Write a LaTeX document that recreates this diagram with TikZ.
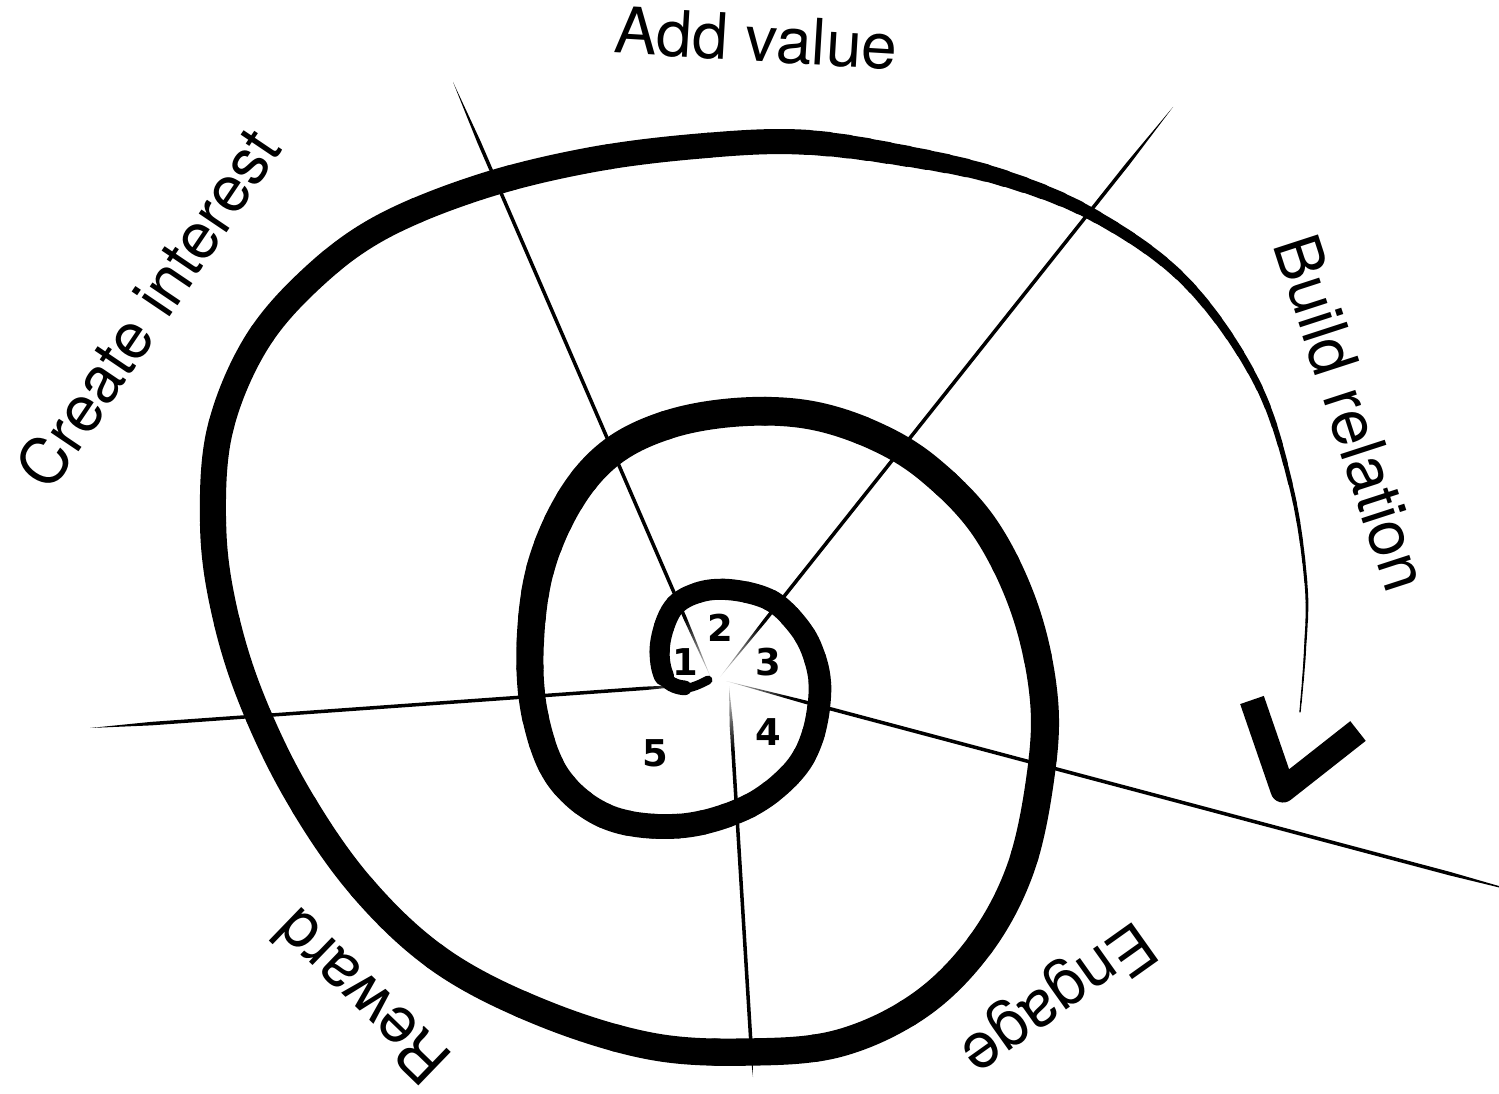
\documentclass[tikz,border=0pt]{standalone}
\usepackage{fontspec}
\setmainfont{TeX Gyre Heros}
\newfontfamily\numfont{DejaVu Sans}
\usetikzlibrary{calc,fadings}
\tikzfading[name=ctrfade, inner color=transparent!0, outer color=transparent!100]
\newcommand\taperline[2]{%
  \fill[black] (#1) -- ($(#1)!0.1!(#2)!0.5pt!90:(#2)$) -- ($(#1)!0.9!(#2)!0.5pt!90:(#2)$) -- (#2)
   -- ($(#1)!0.9!(#2)!0.5pt!-90:(#2)$) -- ($(#1)!0.1!(#2)!0.5pt!-90:(#2)$) -- cycle;}
% one piece of the brush stroke: from #1 px to #2 px along the spiral, width #3 px
\newcommand\brushseg[3]{%
  \pgfmathsetmacro\segon{(#2-#1)*0.284528}%
  \pgfmathsetmacro\segphase{\segon+2000-(#1)*0.284528}%
  \draw[line width=#3*0.01cm, line cap=round, dash pattern=on \segon pt off 2000pt, dash phase=\segphase pt, use path=\spiralpath];}
\newcommand\brushwidth[1]{% width in px at distance #1 px from the start
  \pgfmathsetmacro\ee{4700-(#1)}%
  \pgfmathsetmacro\ww{min(6+(#1)/60*14, 20+((#1)-60)/940*9, 29-max(0,(#1)-1000)/2800*4,
     max(1+\ee/250*3, 4+(\ee-250)/350*8, 12+(\ee-600)/300*13))}}
\tikzset{
  lbl/.style={font=\fontsize{18.2}{20}\selectfont, inner sep=0pt, anchor=base},
  num/.style={font=\numfont\bfseries\fontsize{10.5}{12}\selectfont, inner sep=0pt},
  check/.style={line width=0.25cm, line join=round, line cap=butt}
}
\begin{document}
\begin{tikzpicture}[x=0.01cm,y=-0.01cm]
\useasboundingbox (0,0) rectangle (1499,1094);
% radial lines
\coordinate (o1) at (453,82);   \coordinate (i1) at (711,678);
\coordinate (o2) at (1173,107); \coordinate (i2) at (720,677);
\coordinate (o3) at (1530,895); \coordinate (i3) at (726,681);
\coordinate (o4) at (753,1077); \coordinate (i4) at (729,686);
\coordinate (o5) at (90,728);   \coordinate (i5) at (706,684);
\taperline{o1}{i1}
\taperline{o2}{i2}
\taperline{o3}{i3}
\taperline{o4}{i4}
\taperline{o5}{i5}
% fade at centre
\coordinate (ctr) at (717,681);
\fill[white, path fading=ctrfade] (ctr) circle[radius=70];
% spiral
\path[save path=\spiralpath] plot[smooth, tension=0.6] coordinates {
(708,680) (686,688) (665,678) (660,645) (673,608) (700,592) (733,590) (770,600) (795,622) (812,650)
(820,688) (812,738) (790,775) (745,808) (680,826) (610,818) (560,780) (536,720) (530,650) (540,570)
(570,500) (612,452) (670,424) (740,412) (810,415) (875,436) (930,470) (985,528) (1025,610) (1044,700) (1040,780)
(1020,870) (980,945) (920,1005) (840,1043) (750,1052) (650,1046) (540,1012) (440,960) (360,885) (295,790)
(248,690) (222,600) (213,520) (220,430) (255,345) (310,280) (380,228) (480,187) (590,160) (700,146)
(800,142) (900,155) (1000,177) (1095,216) (1186,282) (1256,381) (1291,486) (1306,584) (1305,650) (1300,712)};
\foreach \i in {0,...,39} {
  \pgfmathsetmacro\aa{\i*25}\pgfmathsetmacro\bb{\aa+25}
  \brushwidth{\aa+12.5}
  \brushseg{\aa}{\bb}{\ww}
}
\foreach \i in {0,...,27} {
  \pgfmathsetmacro\aa{1000+\i*100}\pgfmathsetmacro\bb{\aa+100}
  \brushwidth{\aa+50}
  \brushseg{\aa}{\bb}{\ww}
}
\foreach \i in {0,...,45} {
  \pgfmathsetmacro\aa{3800+\i*20}\pgfmathsetmacro\bb{\aa+20}
  \brushwidth{\aa+10}
  \brushseg{\aa}{\bb}{\ww}
}
% check mark
\coordinate (ck1) at (1252,700);
\coordinate (ck2) at (1283,790);
\coordinate (ck3) at (1358,731);
\draw[check] (ck1) -- (ck2) -- (ck3);
% numbers
\node[num] (n1) at (685,662) {1};
\node[num] (n2) at (720,628) {2};
\node[num] (n3) at (768,662) {3};
\node[num] (n4) at (768,732) {4};
\node[num] (n5) at (655,753) {5};
% labels
\node[lbl, rotate=-3.4] (add) at (755,61) {Add value};
\node[lbl, rotate=56] (create) at (167,321) {Create interest};
\node[lbl, rotate=-72] (build) at (1330,420) {Build relation};
\node[lbl, rotate=136] (reward) at (377,981) {Reward};
\node[lbl, rotate=215.4] (engage) at (1047,983) {Engage};
\end{tikzpicture}
\end{document}
